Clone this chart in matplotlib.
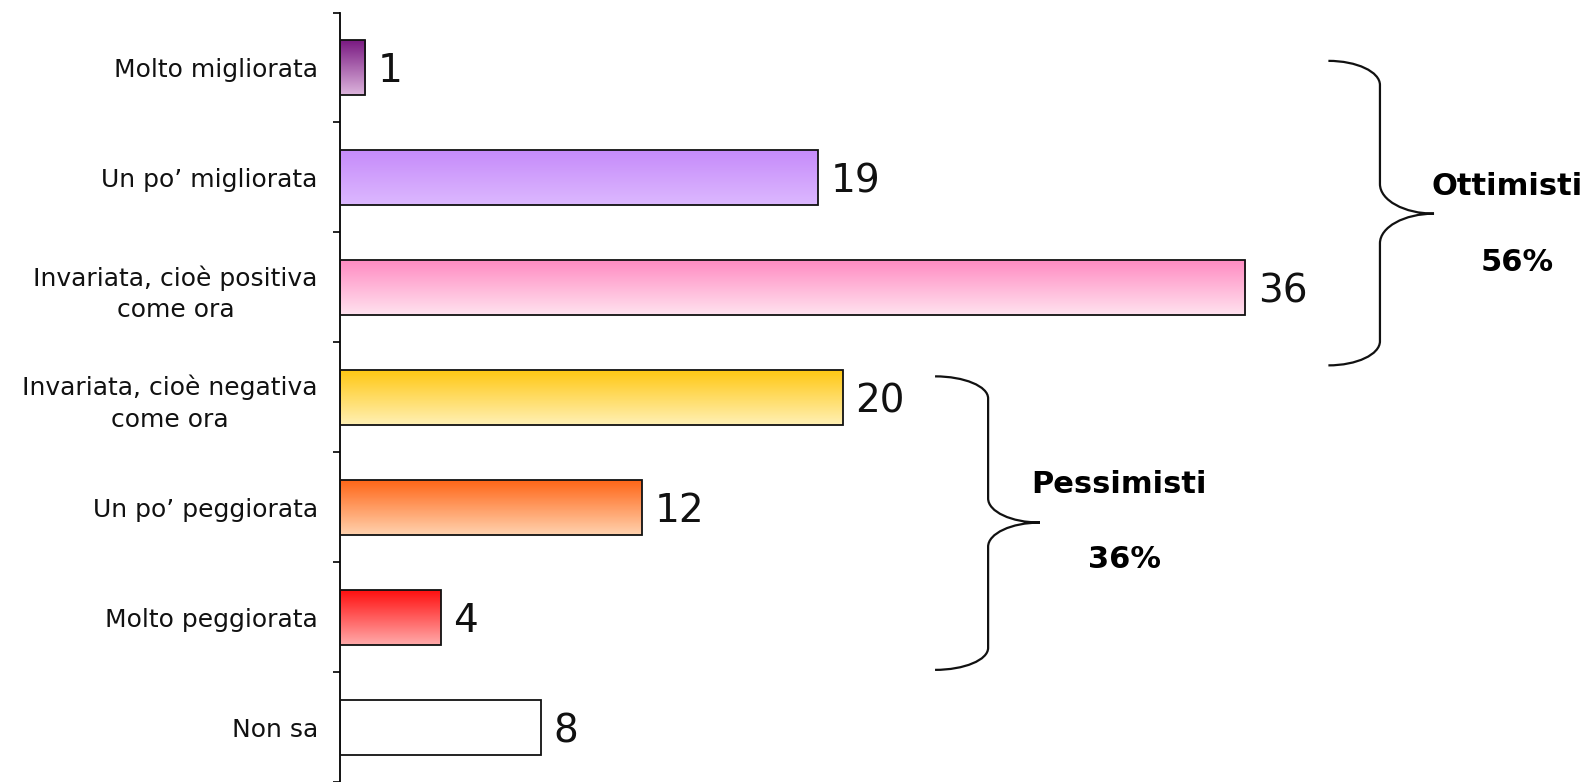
import numpy as np
import matplotlib
matplotlib.use("Agg")
import matplotlib.pyplot as plt
from matplotlib.path import Path
import matplotlib.patches as mpatches
from matplotlib.colors import to_rgb

categories = ["Molto migliorata", "Un po’ migliorata", "Invariata, cioè positiva\ncome ora",
              "Invariata, cioè negativa\ncome ora", "Un po’ peggiorata", "Molto peggiorata", "Non sa"]
values = [1, 19, 36, 20, 12, 4, 8]
top_colors = ["#7a1a82", "#c68bfa", "#ff8cc2", "#ffc814", "#ff6618", "#ff1010", "#ffffff"]
bottom_colors = ["#dcb4dc", "#dcb8ff", "#ffe2ef", "#fff0b4", "#ffd2ae", "#ffaaaa", "#ffffff"]

groups = ["Ottimisti", "Pessimisti"]
group_pct = ["56%", "36%"]

plt.rcParams['font.family'] = ['DejaVu Sans']

fig = plt.figure(figsize=(15.95, 7.82), dpi=100)
ax = fig.add_axes([340 / 1595, 0, 1257.5 / 1595, 769.5 / 782])

y = np.arange(len(categories))
bars = ax.barh(y, values, height=0.5, facecolor="none", edgecolor="#111111", linewidth=1.3, zorder=3)

# vertical gradient fill for every bar
n = 64
for bar, c1, c2 in zip(bars, top_colors, bottom_colors):
    a, b = np.array(to_rgb(c1)), np.array(to_rgb(c2))
    t = np.linspace(0, 1, n)[:, None]
    grad = (a * (1 - t) + b * t)[:, None, :]
    x0, y0, w, h = bar.get_x(), bar.get_y(), bar.get_width(), bar.get_height()
    ax.imshow(grad, extent=(x0, x0 + w, y0, y0 + h), origin="lower", aspect="auto",
              interpolation="bilinear", zorder=2)

for yi, v in zip(y, values):
    ax.text(v + 0.5, yi, str(v), va="center_baseline", ha="left", fontsize=28, color="#111111")

ax.set_xlim(0, 50)
ax.set_ylim(len(categories) - 0.5, -0.5)

for s in ["top", "right", "bottom"]:
    ax.spines[s].set_visible(False)
ax.spines["left"].set_linewidth(1.3)
ax.set_xticks([])
ax.set_yticks(np.arange(-0.5, len(categories) + 0.5, 1))
ax.set_yticklabels([])
ax.tick_params(axis="y", which="major", direction="out", length=5, width=1.2)
ax.set_yticks(y, minor=True)
ax.set_yticklabels(categories, minor=True, fontsize=18, color="#111111")
ax.tick_params(axis="y", which="minor", length=0, pad=16)
for lbl in ax.get_yticklabels(minor=True):
    lbl.set_multialignment("center")
    lbl.set_linespacing(1.4)


def brace(ax, x0, x1, x2, ytop, ybot, ytip, re, rm):
    k = 0.55
    verts = [
        (x0, ytop),
        (x0 + k * (x1 - x0), ytop), (x1, ytop + (1 - k) * re), (x1, ytop + re),
        (x1, ytip - rm),
        (x1, ytip - (1 - k) * rm), (x2 - k * (x2 - x1), ytip), (x2, ytip),
        (x2 - k * (x2 - x1), ytip), (x1, ytip + (1 - k) * rm), (x1, ytip + rm),
        (x1, ybot - re),
        (x1, ybot - (1 - k) * re), (x0 + k * (x1 - x0), ybot), (x0, ybot),
    ]
    codes = [Path.MOVETO] + [Path.CURVE4] * 3 + [Path.LINETO] + [Path.CURVE4] * 6 + \
            [Path.LINETO] + [Path.CURVE4] * 3
    ax.add_patch(mpatches.PathPatch(Path(verts, codes), facecolor="none", edgecolor="#111111",
                                    linewidth=1.6, clip_on=False))


brace(ax, 39.3, 41.35, 43.5, -0.06, 2.71, 1.33, 0.22, 0.27)
brace(ax, 23.66, 25.77, 27.83, 2.81, 5.48, 4.14, 0.2, 0.22)

ax.text(46.4, 1.08, groups[0], ha="center", va="center", fontsize=22, fontweight="bold")
ax.text(46.8, 1.77, group_pct[0], ha="center", va="center", fontsize=22, fontweight="bold")
ax.text(30.97, 3.79, groups[1], ha="center", va="center", fontsize=22, fontweight="bold")
ax.text(31.2, 4.48, group_pct[1], ha="center", va="center", fontsize=22, fontweight="bold")

fig.savefig("out.png", dpi=100)
